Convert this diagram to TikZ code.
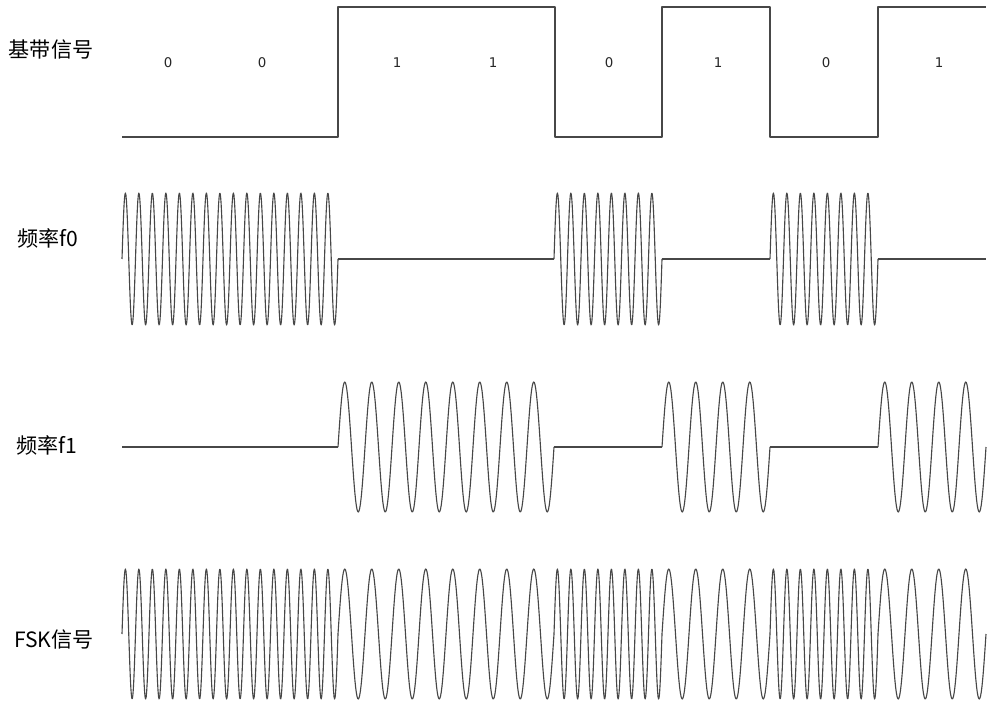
\documentclass[tikz,border=0pt]{standalone}
\usepackage{fontspec}
\newfontfamily\cjk{Noto Sans CJK SC}
\newfontfamily\digitfont{DejaVu Sans}
\usetikzlibrary{positioning}

\begin{document}
\begin{tikzpicture}[
    x=0.025cm, y=-0.025cm,
    signal/.style={draw=black!72, line width=0.8pt, line join=round},
    rowlabel/.style={font=\cjk\fontsize{15}{18}\selectfont, inner sep=0pt, text=black},
    bitlabel/.style={font=\digitfont\fontsize{9.5}{11}\selectfont, inner sep=0pt, text=black!85}
]

% Page frame
\useasboundingbox (0,0) rectangle (1000,707);

% Row labels
\node[rowlabel] (base_lbl) at (51,50) {基带信号};
\node[rowlabel] (f0_lbl) at (48,238) {频率f0};
\node[rowlabel] (f1_lbl) at (47,445) {频率f1};
\node[rowlabel] (fsk_lbl) at (54,640) {FSK信号};

% Baseband signal
\draw[signal] (122,137) -- (338,137) -- (338,7) -- (555,7) -- (555,137)
    -- (662,137) -- (662,7) -- (770,7) -- (770,137) -- (878,137) -- (878,7) -- (986,7);

% Bit values
\foreach \v/\px [count=\i] in {0/168, 0/262, 1/397, 1/493, 0/609, 1/718, 0/826, 1/939}
    \node[bitlabel] (bit\i) at (\px,63) {\v};

% Carriers and FSK output, one bit at a time
\foreach \b [count=\i from 0] in {0,0,1,1,0,1,0,1} {
    \pgfmathsetmacro{\xa}{122+108*\i}
    \pgfmathsetmacro{\xb}{\xa+108}
    \ifnum\b=0
        \draw[signal] plot[domain=\xa:\xb, samples=220] (\x, {259-66*sin((\x-\xa)*26.6667)});
        \draw[signal] (\xa,447) -- (\xb,447);
        \draw[signal] plot[domain=\xa:\xb, samples=220] (\x, {634-65*sin((\x-\xa)*26.6667)});
    \else
        \draw[signal] (\xa,259) -- (\xb,259);
        \draw[signal] plot[domain=\xa:\xb, samples=160] (\x, {447-65*sin((\x-\xa)*13.3333)});
        \draw[signal] plot[domain=\xa:\xb, samples=160] (\x, {634-65*sin((\x-\xa)*13.3333)});
    \fi
}

\end{tikzpicture}
\end{document}
